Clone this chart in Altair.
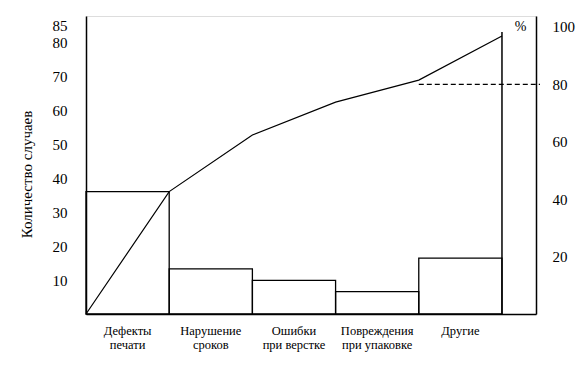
import altair as alt
import pandas as pd

categories = ["Дефекты\nпечати", "Нарушение\nсроков", "Ошибки\nпри верстке",
              "Повреждения\nпри упаковке", "Другие"]
counts = [36.1, 13.3, 9.9, 6.6, 16.5]
cum_counts = [0, 36.1, 52.8, 62.5, 69.0, 82.0]
left_ticks = [10, 20, 30, 40, 50, 60, 70, 80, 85]
right_ticks = [20, 40, 60, 80, 100]
pct_level = 80
line_top = 83.2

FONT = "Liberation Serif"
W, H = 450, 298
XMAX = 5.409
YMAX = 87.9
PMAX = 103.8

bars = pd.DataFrame({
    "cat": categories,
    "x0": list(range(len(counts))),
    "x1": [i + 1 for i in range(len(counts))],
    "xc": [i + 0.5 for i in range(len(counts))],
    "y": counts,
})
cum = pd.DataFrame({"x": list(range(len(cum_counts))), "y": cum_counts})
vline = pd.DataFrame({"x": [len(counts)], "y0": [0], "y1": [line_top]})
dash = pd.DataFrame({"x": [len(counts) - 1], "p": [pct_level]})

xs = alt.Scale(domain=[0, XMAX], nice=False, zero=False)
ys = alt.Scale(domain=[0, YMAX], nice=False)
ps = alt.Scale(domain=[0, PMAX], nice=False)

xaxis = alt.Axis(title=None, labels=False, ticks=False, grid=False,
                 domainColor="black", domainWidth=1.5)

left_axis = alt.Axis(
    values=left_ticks, ticks=False, grid=False, labelPadding=19,
    labelOverlap=False, labelFlush=False,
    labelFont=FONT, labelFontSize=15, labelColor="black",
    domainColor="black", domainWidth=1.5,
    title="Количество случаев", titleFont=FONT, titleFontSize=15,
    titleFontWeight="normal", titleColor="black", titlePadding=18,
    titleY=158)

rects = alt.Chart(bars).mark_rect(fill=None, stroke="black", strokeWidth=1.3).encode(
    x=alt.X("x0:Q", scale=xs, axis=xaxis),
    x2="x1:Q",
    y=alt.Y("y:Q", scale=ys, axis=left_axis),
    y2=alt.datum(0),
)

line = alt.Chart(cum).mark_line(color="black", strokeWidth=1.2).encode(
    x=alt.X("x:Q", scale=xs, axis=xaxis), y=alt.Y("y:Q", scale=ys, axis=left_axis))

vrule = alt.Chart(vline).mark_rule(color="black", strokeWidth=1.5).encode(
    x=alt.X("x:Q", scale=xs, axis=xaxis),
    y=alt.Y("y0:Q", scale=ys, axis=left_axis), y2="y1:Q")

labels = alt.Chart(bars).mark_text(font=FONT, fontSize=12.5, baseline="top",
                                   align="center", lineBreak="\n", lineHeight=13.5,
                                   color="black").encode(
    x=alt.X("xc:Q", scale=xs, axis=xaxis), y=alt.value(H + 11), text="cat:N")

left_layer = alt.layer(rects, line, vrule, labels)

dashed = alt.Chart(dash).mark_rule(color="black", strokeWidth=1.2,
                                   strokeDash=[5, 3]).encode(
    x=alt.X("x:Q", scale=xs, axis=xaxis), x2=alt.value(W + 4),
    y=alt.Y("p:Q", scale=ps, axis=alt.Axis(
        orient="right", values=right_ticks, ticks=False, grid=False,
        labelPadding=16, labelOverlap=False, labelFlush=False,
        labelFont=FONT, labelFontSize=15, labelColor="black",
        domainColor="black", domainWidth=1.5,
        title="%", titleAngle=0, titleX=-16, titleY=10, titleAlign="center",
        titleBaseline="middle", titleFont=FONT, titleFontSize=14,
        titleFontWeight="normal", titleColor="black")),
)

chart = alt.layer(left_layer, dashed).resolve_scale(y="independent").properties(
    width=W, height=H,
    autosize=alt.AutoSizeParams(type="none"),
    padding={"left": 78, "top": 8, "right": 44, "bottom": 45},
).configure_view(strokeWidth=0).configure_axis(
    labelOverlap=False
).configure(background="white")

chart.save("out.html", embed_options={"renderer": "svg", "actions": False})
